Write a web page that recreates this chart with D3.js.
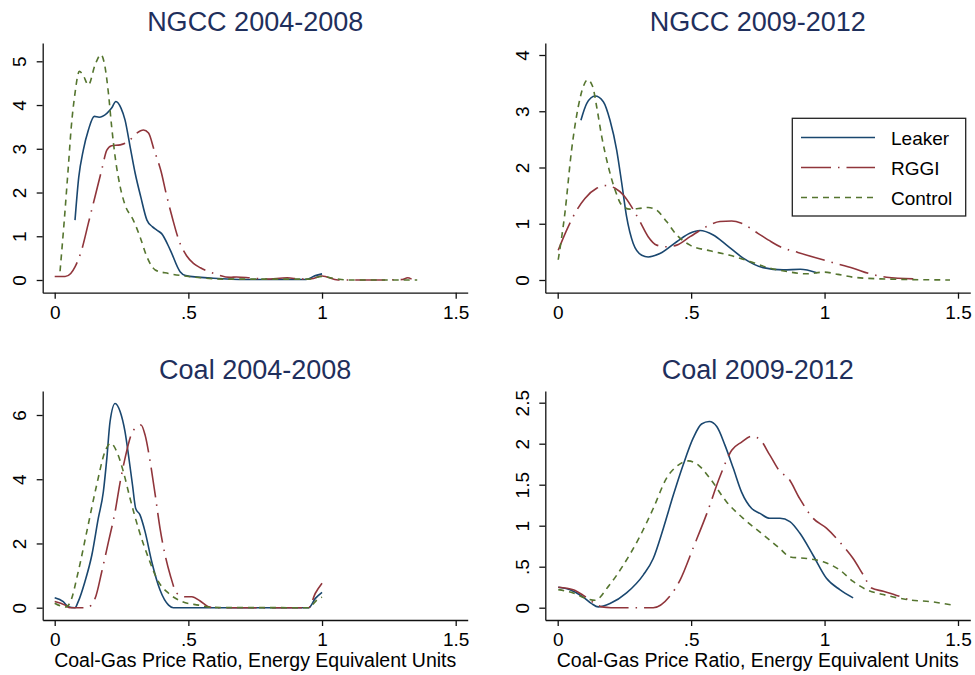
<!DOCTYPE html>
<html>
<head>
<meta charset="utf-8">
<script src="https://cdn.jsdelivr.net/npm/d3@7"></script>
<style>
  html, body { margin: 0; padding: 0; background: #fff; }
  svg { display: block; }
  text { font-family: "Liberation Sans", Arial, Helvetica, sans-serif; }
</style>
</head>
<body>
<svg id="chart" width="975" height="675"></svg>
<script>
// Kernel density estimates of the coal-gas price ratio, by plant group.
const seriesNames = ["Leaker", "RGGI", "Control"];
const panelTitles = ["NGCC 2004-2008", "NGCC 2009-2012", "Coal 2004-2008", "Coal 2009-2012"];
const xAxisTitle = "Coal-Gas Price Ratio, Energy Equivalent Units";
const xTicks = [0, 0.5, 1, 1.5];
const yTicksNgccEarly = [0, 1, 2, 3, 4, 5];
const yTicksNgccLate = [0, 1, 2, 3, 4];
const yTicksCoalEarly = [0, 2, 4, 6];
const yTicksCoalLate = [0, 0.5, 1, 1.5, 2, 2.5];

// [price ratio, density]
const ngccEarlyLeaker = [[0.076,1.37],[0.090,2.35],[0.107,2.97],[0.126,3.43],[0.148,3.74],[0.166,3.72],[0.195,3.81],[0.213,3.93],[0.229,4.08],[0.248,3.93],[0.263,3.66],[0.282,3.05],[0.301,2.44],[0.322,1.90],[0.345,1.37],[0.365,1.22],[0.382,1.14],[0.400,1.06],[0.432,0.69],[0.469,0.19],[0.49,0.10],[0.594,0.04],[0.72,0.01],[0.94,0.01],[0.975,0.10],[1.0,0.14]];
const ngccEarlyRggi = [[0.0,0.08],[0.039,0.08],[0.06,0.15],[0.076,0.30],[0.101,0.69],[0.126,1.30],[0.151,1.91],[0.176,2.52],[0.195,2.97],[0.213,3.07],[0.245,3.09],[0.276,3.17],[0.307,3.36],[0.332,3.43],[0.351,3.36],[0.372,2.97],[0.398,2.48],[0.416,2.00],[0.441,1.40],[0.465,0.90],[0.494,0.55],[0.519,0.38],[0.545,0.28],[0.569,0.21],[0.6,0.14],[0.657,0.06],[0.68,0.07],[0.73,0.05],[0.79,0.02],[0.87,0.05],[0.92,0.02],[0.96,0.03],[1.0,0.09],[1.06,0.0],[1.2,0.0],[1.30,0.01],[1.32,0.05],[1.335,0.02]];
const ngccEarlyControl = [[0.02,0.2],[0.035,1.3],[0.051,2.59],[0.062,3.5],[0.076,4.27],[0.092,4.77],[0.105,4.70],[0.126,4.46],[0.151,4.92],[0.173,5.15],[0.188,4.88],[0.201,4.27],[0.213,3.51],[0.226,2.82],[0.245,2.13],[0.263,1.72],[0.294,1.37],[0.319,0.99],[0.345,0.53],[0.376,0.23],[0.425,0.15],[0.488,0.09],[0.55,0.05],[0.63,0.02],[0.8,0.02],[0.95,0.02],[1.0,0.08],[1.05,0.03],[1.1,0.0],[1.356,0.0]];

const ngccLateLeaker = [[0.087,2.84],[0.109,3.14],[0.140,3.27],[0.171,3.17],[0.196,2.84],[0.221,2.31],[0.240,1.72],[0.258,1.13],[0.283,0.65],[0.315,0.44],[0.339,0.41],[0.383,0.47],[0.446,0.68],[0.495,0.83],[0.533,0.88],[0.583,0.80],[0.633,0.62],[0.695,0.39],[0.770,0.22],[0.845,0.18],[0.909,0.19],[0.971,0.13]];
const ngccLateRggi = [[0.002,0.53],[0.034,0.89],[0.065,1.19],[0.102,1.45],[0.146,1.63],[0.184,1.68],[0.215,1.63],[0.246,1.51],[0.277,1.30],[0.308,1.04],[0.339,0.77],[0.371,0.62],[0.408,0.59],[0.446,0.62],[0.496,0.77],[0.558,0.95],[0.608,1.04],[0.652,1.05],[0.689,1.01],[0.750,0.83],[0.800,0.68],[0.834,0.59],[0.90,0.49],[1.03,0.31],[1.107,0.21],[1.17,0.11],[1.232,0.05],[1.338,0.02]];
const ngccLateControl = [[0.002,0.36],[0.027,1.19],[0.052,2.31],[0.077,3.08],[0.096,3.44],[0.112,3.56],[0.131,3.44],[0.146,3.08],[0.165,2.55],[0.19,2.01],[0.215,1.60],[0.24,1.33],[0.271,1.26],[0.302,1.27],[0.339,1.29],[0.371,1.24],[0.408,1.04],[0.446,0.80],[0.496,0.62],[0.570,0.52],[0.645,0.44],[0.72,0.33],[0.795,0.21],[0.86,0.15],[0.93,0.11],[1.0,0.14],[1.05,0.10],[1.107,0.05],[1.21,0.02],[1.47,0.0]];

const coalEarlyLeaker = [[0.0,0.31],[0.032,0.19],[0.051,0.03],[0.076,0.0],[0.088,0.19],[0.113,0.81],[0.139,1.64],[0.163,2.78],[0.182,3.61],[0.195,4.65],[0.207,5.79],[0.226,6.36],[0.245,6.10],[0.263,5.48],[0.276,4.75],[0.291,3.82],[0.303,3.09],[0.319,2.89],[0.338,2.37],[0.363,1.43],[0.394,0.55],[0.426,0.08],[0.444,0.0],[0.95,0.0],[0.975,0.29],[1.0,0.48]];
const coalEarlyRggi = [[0.0,0.19],[0.039,0.08],[0.057,0.0],[0.12,0.0],[0.151,0.29],[0.176,1.12],[0.201,2.05],[0.226,2.99],[0.245,3.92],[0.263,4.65],[0.286,5.38],[0.307,5.63],[0.323,5.69],[0.338,5.38],[0.357,4.55],[0.376,3.51],[0.394,2.47],[0.413,1.64],[0.432,1.02],[0.457,0.45],[0.488,0.34],[0.513,0.34],[0.544,0.21],[0.575,0.03],[0.6,0.0],[0.95,0.0],[0.975,0.45],[1.0,0.76]];
const coalEarlyControl = [[0.0,0.14],[0.04,0.02],[0.057,0.15],[0.088,1.12],[0.12,2.37],[0.157,3.82],[0.188,4.86],[0.21,5.12],[0.232,4.86],[0.257,4.23],[0.282,3.40],[0.313,2.47],[0.351,1.54],[0.388,0.81],[0.426,0.45],[0.476,0.19],[0.538,0.08],[0.588,0.01],[0.95,0.0],[0.981,0.24],[1.0,0.33]];

const coalLateLeaker = [[0.002,0.25],[0.046,0.22],[0.096,0.13],[0.127,0.05],[0.152,0.01],[0.196,0.05],[0.258,0.18],[0.321,0.40],[0.358,0.60],[0.396,0.97],[0.433,1.37],[0.47,1.74],[0.508,2.07],[0.539,2.24],[0.568,2.27],[0.596,2.21],[0.627,1.98],[0.658,1.70],[0.689,1.41],[0.727,1.21],[0.758,1.15],[0.795,1.09],[0.833,1.09],[0.87,1.05],[0.907,0.91],[0.957,0.64],[1.007,0.36],[1.057,0.22],[1.107,0.12]];
const coalLateRggi = [[0.002,0.25],[0.058,0.22],[0.096,0.15],[0.14,0.05],[0.165,0.01],[0.2,0.0],[0.358,0.0],[0.42,0.14],[0.459,0.34],[0.509,0.74],[0.559,1.15],[0.608,1.60],[0.652,1.92],[0.689,2.02],[0.727,2.09],[0.758,2.05],[0.795,1.86],[0.833,1.66],[0.864,1.58],[0.907,1.33],[0.957,1.09],[1.007,0.97],[1.057,0.80],[1.107,0.60],[1.145,0.40],[1.176,0.24],[1.22,0.20],[1.27,0.15],[1.313,0.10]];
const coalLateControl = [[0.002,0.22],[0.058,0.18],[0.109,0.11],[0.14,0.09],[0.19,0.26],[0.246,0.52],[0.308,0.87],[0.358,1.21],[0.408,1.58],[0.452,1.74],[0.489,1.79],[0.527,1.74],[0.570,1.58],[0.633,1.29],[0.695,1.09],[0.77,0.89],[0.833,0.72],[0.87,0.62],[0.933,0.60],[0.995,0.56],[1.057,0.46],[1.107,0.32],[1.157,0.22],[1.22,0.16],[1.307,0.10],[1.407,0.07],[1.482,0.03]];

// Line look for each group
const seriesColors = ["#1a476f", "#90353b", "#55752f"];
const seriesDash = [null, "30,7,1.5,7", "6,5"];

// Panel frames: plot box edges plus the pixel spots of the first and last tick
const panels = [
  { title: panelTitles[0], yTicks: yTicksNgccEarly, series: [ngccEarlyLeaker, ngccEarlyRggi, ngccEarlyControl],
    L: 42.7, R: 467.7, T: 43, B: 292.7, x0: 54.7, x1: 455.7, y0: 280, y1: 61.3, xTitle: false, legend: false },
  { title: panelTitles[1], yTicks: yTicksNgccLate, series: [ngccLateLeaker, ngccLateRggi, ngccLateControl],
    L: 545.3, R: 970.3, T: 43, B: 292.7, x0: 557.7, x1: 958, y0: 280, y1: 55, xTitle: false, legend: true },
  { title: panelTitles[2], yTicks: yTicksCoalEarly, series: [coalEarlyLeaker, coalEarlyRggi, coalEarlyControl],
    L: 42.7, R: 467.7, T: 391, B: 620, x0: 54.7, x1: 455.7, y0: 607.7, y1: 415, xTitle: true, legend: false },
  { title: panelTitles[3], yTicks: yTicksCoalLate, series: [coalLateLeaker, coalLateRggi, coalLateControl],
    L: 545.3, R: 970.3, T: 391, B: 620, x0: 557.7, x1: 958, y0: 607.7, y1: 402.7, xTitle: true, legend: false }
];

const svg = d3.select("#chart");
svg.append("rect").attr("width", 975).attr("height", 675).attr("fill", "#fff");

const fmt = d => String(d).replace(/^0\./, ".");

panels.forEach(p => {
  const lastY = p.yTicks[p.yTicks.length - 1];
  const x = d3.scaleLinear().domain([0, 1.5]).range([p.x0, p.x1]);
  x.domain([x.invert(p.L), x.invert(p.R)]).range([p.L, p.R]);
  const y = d3.scaleLinear().domain([0, lastY]).range([p.y0, p.y1]);
  y.domain([y.invert(p.B), y.invert(p.T)]).range([p.B, p.T]);

  const g = svg.append("g");

  // curves
  const line = d3.line().x(d => x(d[0])).y(d => y(d[1])).curve(d3.curveMonotoneX);
  p.series.forEach((s, i) => {
    g.append("path")
      .datum(s)
      .attr("d", line)
      .attr("fill", "none")
      .attr("stroke", seriesColors[i])
      .attr("stroke-width", 1.6)
      .attr("stroke-dasharray", seriesDash[i])
      .attr("stroke-linejoin", "round");
  });

  // x axis
  const xa = g.append("g")
    .attr("transform", `translate(0,${p.B})`)
    .call(d3.axisBottom(x).tickValues(xTicks).tickFormat(fmt).tickSize(6).tickSizeOuter(0));
  xa.selectAll("text").attr("y", 26).attr("dy", 0).attr("font-size", 19).attr("fill", "#000")
    .style("font-family", "'Liberation Sans', Arial, sans-serif");

  // y axis, labels turned upright along the axis
  const ya = g.append("g")
    .attr("transform", `translate(${p.L},0)`)
    .call(d3.axisLeft(y).tickValues(p.yTicks).tickFormat(fmt).tickSize(6).tickSizeOuter(0));
  ya.selectAll("text")
    .attr("transform", "rotate(-90)")
    .attr("x", 0).attr("y", -16.7).attr("dy", 0)
    .attr("text-anchor", "middle")
    .attr("font-size", 19).attr("fill", "#000")
    .style("font-family", "'Liberation Sans', Arial, sans-serif");

  [xa, ya].forEach(a => {
    a.select(".domain").attr("stroke", "#111").attr("stroke-width", 1.3);
    a.selectAll(".tick line").attr("stroke", "#111").attr("stroke-width", 1.3);
  });

  // panel title
  g.append("text")
    .attr("x", (p.L + p.R) / 2).attr("y", p.T - 12.3)
    .attr("text-anchor", "middle")
    .attr("font-size", 27)
    .attr("fill", "#1f2f5c")
    .text(p.title);

  if (p.xTitle) {
    g.append("text")
      .attr("x", (p.L + p.R) / 2).attr("y", 667)
      .attr("text-anchor", "middle")
      .attr("font-size", 19.5)
      .attr("fill", "#000")
      .text(xAxisTitle);
  }

  if (p.legend) {
    const lg = g.append("g");
    lg.append("rect")
      .attr("x", 792.3).attr("y", 118.3).attr("width", 173.4).attr("height", 97.7)
      .attr("fill", "#fff").attr("stroke", "#222").attr("stroke-width", 1.3);
    const rowY = [137.5, 167.5, 197.5];
    seriesNames.forEach((name, i) => {
      lg.append("line")
        .attr("x1", 801).attr("x2", 875).attr("y1", rowY[i]).attr("y2", rowY[i])
        .attr("stroke", seriesColors[i]).attr("stroke-width", 1.6)
        .attr("stroke-dasharray", seriesDash[i]);
      lg.append("text")
        .attr("x", 891).attr("y", rowY[i] + 7.2)
        .attr("font-size", 19).attr("fill", "#000")
        .text(name);
    });
  }
});
</script>
</body>
</html>
